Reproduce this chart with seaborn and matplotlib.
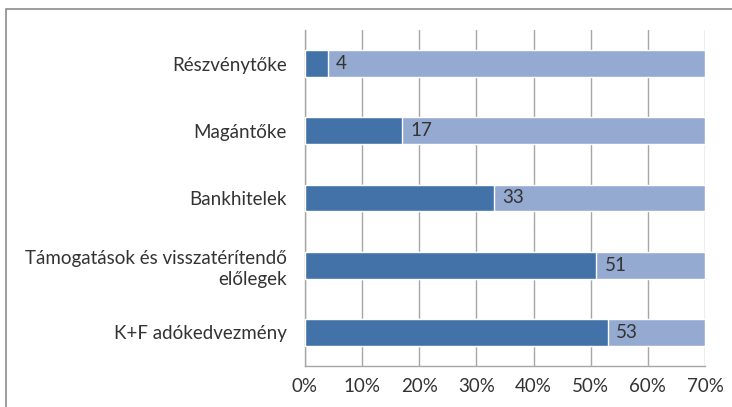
import matplotlib
matplotlib.use("Agg")
import matplotlib.pyplot as plt
import seaborn as sns
import pandas as pd
import numpy as np
from matplotlib.patches import Rectangle

categories = [
    "Részvénytőke",
    "Magántőke",
    "Bankhitelek",
    "Támogatások és visszatérítendő\nelőlegek",
    "K+F adókedvezmény",
]
values = [4, 17, 33, 51, 53]
total = [70, 70, 70, 70, 70]
x_ticks = [0, 10, 20, 30, 40, 50, 60, 70]

dark = "#4372A9"
light = "#95AAD1"
grid_col = "#A6A6A6"
text_col = "#333333"

sns.set_style("white")
plt.rcParams["font.family"] = ["Lato", "DejaVu Sans"]

df = pd.DataFrame({"cat": categories, "value": values, "total": total})

fig = plt.figure(figsize=(7.32, 4.07), dpi=100)
ax = fig.add_axes([305 / 732, 1 - 366 / 407, 400 / 732, 336 / 407])

sns.barplot(data=df, y="cat", x="total", color=light, width=0.4,
            saturation=1, ax=ax, zorder=2)
sns.barplot(data=df, y="cat", x="value", color=dark, width=0.4,
            saturation=1, ax=ax, zorder=3)

for i, v in enumerate(values):
    ax.annotate(str(v), (v, i), xytext=(6, 0), textcoords="offset points",
                va="center", ha="left", fontsize=13.5, color=text_col, zorder=4)

ax.set_xlim(0, 70)
ax.set_ylim(len(categories) - 0.5, -0.5)
ax.set_xticks(x_ticks)
ax.set_xticklabels([f"{t}%" for t in x_ticks], fontsize=13.5, color=text_col)
ax.set_yticks(range(len(categories)))
ax.set_yticklabels(categories, fontsize=13.5, color=text_col, linespacing=1.3)
ax.set_yticks(np.arange(-0.5, len(categories), 1), minor=True)
ax.tick_params(axis="y", which="major", length=0, pad=13)
ax.tick_params(axis="y", which="minor", length=5, color=grid_col, direction="out")
ax.tick_params(axis="x", length=5, color=grid_col, direction="out", pad=4)
ax.set_xlabel("")
ax.set_ylabel("")

ax.grid(axis="x", color=grid_col, linewidth=1, zorder=1)
ax.set_axisbelow(True)
for side in ["top", "right"]:
    ax.spines[side].set_visible(False)
for side in ["left", "bottom"]:
    ax.spines[side].set_color(grid_col)
    ax.spines[side].set_linewidth(1)

fig.patches.append(Rectangle((6 / 732, -0.05), 1.1, 1 - 9 / 407 + 0.05,
                             transform=fig.transFigure, fill=False,
                             edgecolor="#8C8C8C", linewidth=1.2))

fig.savefig("out.png", dpi=100)
